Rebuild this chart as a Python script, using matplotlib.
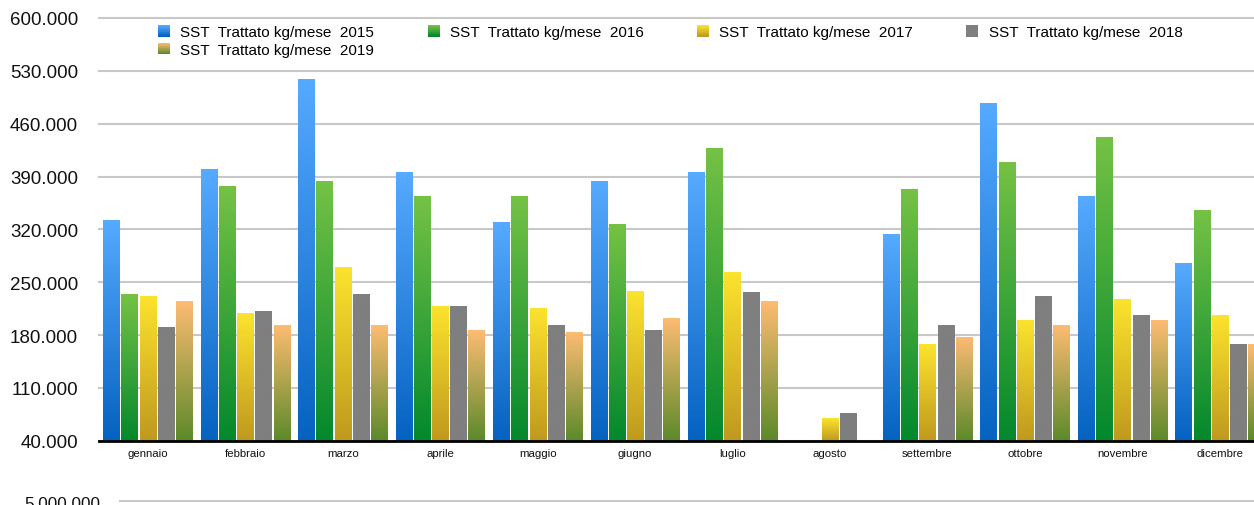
import numpy as np
import matplotlib
matplotlib.use("Agg")
import matplotlib.pyplot as plt
from matplotlib.patches import Rectangle
from matplotlib.legend_handler import HandlerBase
from matplotlib.colors import LinearSegmentedColormap, to_rgb
from matplotlib.lines import Line2D

plt.rcParams["font.family"] = ["Liberation Sans", "DejaVu Sans"]

# --------- dati (kg/mese) ---------
MESI = ["gennaio", "febbraio", "marzo", "aprile", "maggio", "giugno",
        "luglio", "agosto", "settembre", "ottobre", "novembre", "dicembre"]
ANNI = ["2015", "2016", "2017", "2018", "2019"]

v2015 = [332000, 400000, 519000, 396000, 330000, 384000, 396000, 0, 314000, 487000, 364000, 275000]
v2016 = [234000, 377000, 384000, 364000, 364000, 327000, 428000, 0, 373000, 409000, 443000, 345000]
v2017 = [232000, 209000, 270000, 218000, 216000, 238000, 263000, 70000, 168000, 200000, 228000, 206000]
v2018 = [190000, 212000, 234000, 218000, 193000, 187000, 237000, 77000, 193000, 232000, 206000, 168000]
v2019 = [225000, 193000, 193000, 187000, 184000, 202000, 225000, 0, 178000, 193000, 200000, 168000]
SERIE = [v2015, v2016, v2017, v2018, v2019]

Y_MIN, Y_MAX, Y_STEP = 40000, 600000, 70000

# gradienti (basso -> alto)
GRAD = [("#0562c0", "#56aaff"),
        ("#03882d", "#75c245"),
        ("#bf991e", "#fce32e"),
        ("#7f7f7f", "#7f7f7f"),
        ("#5c892a", "#fdbc72")]

# --------- figura ---------
W, H = 1254, 506
fig = plt.figure(figsize=(W / 100, H / 100), dpi=100)
ax = fig.add_axes([99 / W, 1 - 441.7 / H, 1 - 99 / W, (441.7 - 19) / H])

x = np.arange(len(MESI))
step, bw = 0.1867, 0.166
grad = np.linspace(0, 1, 256).reshape(-1, 1)

for i, (vals, (c0, c1)) in enumerate(zip(SERIE, GRAD)):
    cmap = LinearSegmentedColormap.from_list(f"g{i}", [c0, c1])
    bars = ax.bar(x + (i - 2) * step, vals, width=bw, color=c0, linewidth=0, zorder=2)
    for b in bars:
        top = b.get_height()
        if top <= Y_MIN:
            continue
        im = ax.imshow(grad, extent=[b.get_x(), b.get_x() + b.get_width(), Y_MIN, top],
                       aspect="auto", cmap=cmap, origin="lower", zorder=3)
        im.set_clip_path(b)

ax.set_xlim(-0.5, 11.35)
ax.set_ylim(Y_MIN, Y_MAX)
yt = np.arange(Y_MIN, Y_MAX + 1, Y_STEP)
ax.set_yticks(yt)
ax.set_yticklabels([f"{v:,}".replace(",", ".") for v in yt])
ax.set_xticks(x)
ax.set_xticklabels(MESI)
ax.tick_params(axis="y", length=0, pad=15, labelsize=13.5, colors="#111111")
ax.tick_params(axis="x", length=0, pad=5, labelsize=8.2, colors="#111111")

for s in ("top", "right", "left"):
    ax.spines[s].set_visible(False)
ax.spines["bottom"].set_color("black")
ax.spines["bottom"].set_linewidth(2)
ax.spines["bottom"].set_zorder(5)

ax.yaxis.grid(True, color="#c8c8c8", linewidth=1.5)
ax.set_axisbelow(True)
for gl in ax.get_ygridlines():
    gl.set_clip_on(False)


# --------- legenda con quadratini sfumati ---------
class GradHandler(HandlerBase):
    def __init__(self, c0, c1):
        super().__init__()
        self.c0, self.c1 = np.array(to_rgb(c0)), np.array(to_rgb(c1))

    def create_artists(self, legend, orig_handle, xdescent, ydescent, width, height, fontsize, trans):
        n = 16
        out = []
        for k in range(n):
            f = k / (n - 1)
            col = self.c0 * (1 - f) + self.c1 * f
            out.append(Rectangle((-xdescent, -ydescent + k * height / n), width, height / n * 1.05,
                                 facecolor=col, edgecolor="none", transform=trans))
        return out


proxies = [Rectangle((0, 0), 1, 1) for _ in ANNI]
hmap = {p: GradHandler(c0, c1) for p, (c0, c1) in zip(proxies, GRAD)}
labels = [f"SST  Trattato kg/mese  {a}" for a in ANNI]
order = [0, 4, 1, 2, 3]
fig.legend([proxies[k] for k in order], [labels[k] for k in order], handler_map=hmap,
           loc="upper left", bbox_to_anchor=(158 / W, 1 - 26 / H), ncol=4, frameon=False,
           fontsize=11, borderpad=0, borderaxespad=0, handlelength=0.79, handleheight=0.79,
           handletextpad=0.66, columnspacing=3.5, labelspacing=0.23)

# --------- inizio del grafico sottostante (tagliato) ---------
fig.text(100 / W, 1 - 505 / H, "5.000.000", ha="right", va="center", fontsize=12.3, color="#111111")
fig.add_artist(Line2D([120 / W, 1], [1 - 501.7 / H, 1 - 501.7 / H], color="#c8c8c8", linewidth=1.5,
                      transform=fig.transFigure))

fig.savefig("out.png", dpi=100)
